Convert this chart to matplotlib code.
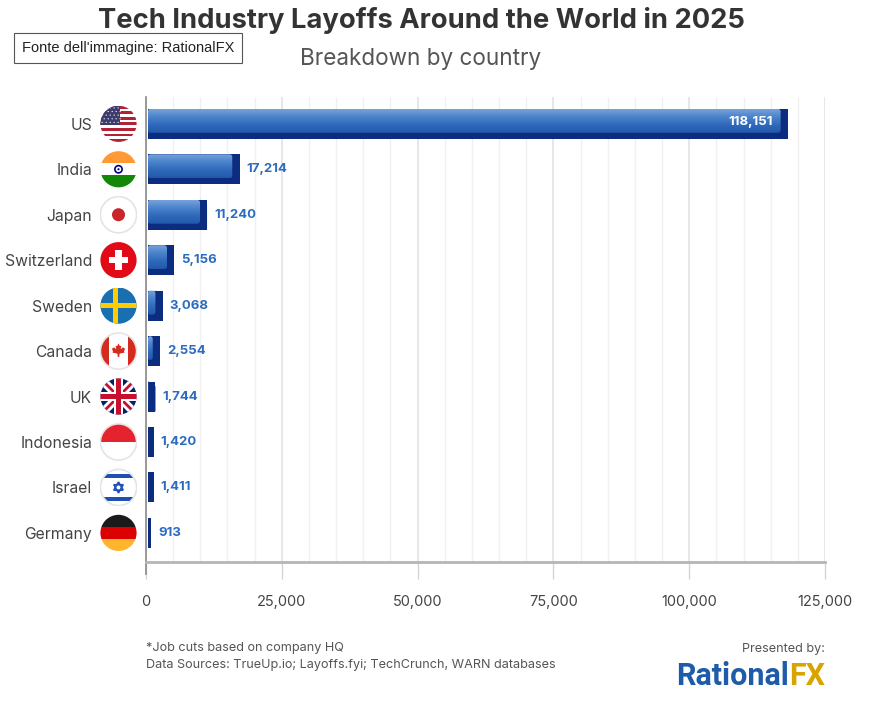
import numpy as np
import matplotlib
matplotlib.use("Agg")
import matplotlib.pyplot as plt
from matplotlib.patches import FancyBboxPatch, Rectangle, Circle, Polygon
from matplotlib.colors import LinearSegmentedColormap
from matplotlib.ticker import MultipleLocator, FuncFormatter

# ── data ────────────────────────────────────────────────────────────
countries = ["US", "India", "Japan", "Switzerland", "Sweden",
             "Canada", "UK", "Indonesia", "Israel", "Germany"]
layoffs = [118151, 17214, 11240, 5156, 3068, 2554, 1744, 1420, 1411, 913]
flag_codes = ["us", "in", "jp", "ch", "se", "ca", "gb", "id", "il", "de"]

TITLE = "Tech Industry Layoffs Around the World in 2025"
SUBTITLE = "Breakdown by country"
NOTE = "*Job cuts based on company HQ"
SOURCES = "Data Sources: TrueUp.io; Layoffs.fyi; TechCrunch, WARN databases"

FONT = ["Inter", "DejaVu Sans"]
W, H = 874, 701

DARK = "#0c2c80"
VALUE_BLUE = "#2b6cc0"
face_cmap = LinearSegmentedColormap.from_list(
    "face", ["#76a2da", "#4a82cb", "#2f69ba", "#2258ab"])

fig = plt.figure(figsize=(W / 100, H / 100), dpi=100)
fig.patch.set_facecolor("white")
ax = fig.add_axes([146 / W, 1 - 562 / H, (825 - 146) / W, (562 - 97) / H])

y = np.arange(len(countries))
ax.set_xlim(0, 125000)
ax.set_ylim(len(countries) - 0.36, -0.59)

# pixel -> data unit helpers
px_x = 125000 / (825 - 146)
px_y = (len(countries) - 0.36 + 0.59) / (562 - 97)

# grid
ax.xaxis.set_major_locator(MultipleLocator(25000))
ax.xaxis.set_minor_locator(MultipleLocator(5000))
ax.grid(axis="x", which="major", color="#e0e0e0", lw=1.1, zorder=0)
ax.grid(axis="x", which="minor", color="#f0f0f0", lw=1.0, zorder=0)
ax.set_axisbelow(True)

# bars: dark base + gradient face
bar_h = 30 * px_y
base = ax.barh(y, layoffs, height=bar_h, color=DARK, zorder=3)
for rect, val in zip(base, layoffs):
    rect.set_x(300)
    rect.set_width(max(val - 300, 0))
    top = rect.get_y()
    face_w = val - 7 * px_x
    if face_w > 300:
        face = FancyBboxPatch((300, top), face_w - 300, bar_h - 6 * px_y,
                              boxstyle=f"round,pad=0,rounding_size={3 * px_x}",
                              mutation_aspect=px_y / px_x,
                              fc="none", ec="none", zorder=4)
        ax.add_patch(face)
        grad = np.linspace(0, 1, 64).reshape(-1, 1)
        im = ax.imshow(grad, cmap=face_cmap, aspect="auto",
                       extent=[300, face_w, top + bar_h - 6 * px_y, top],
                       zorder=4, interpolation="bilinear")
        im.set_clip_path(face)
        # bevel on top-right corner
        bev = Polygon([[face_w, top], [val - 2.5 * px_x, top + 2 * px_y],
                       [val, top + 5 * px_y], [val, top + bar_h],
                       [face_w, top + bar_h - 6 * px_y]],
                      closed=True, fc=DARK, ec="none", zorder=4)
        ax.add_patch(bev)

ax.set_xlim(0, 125000)
ax.set_ylim(len(countries) - 0.36, -0.59)

# value labels
for yi, val in zip(y, layoffs):
    if val > 60000:
        ax.text(val - 15 * px_x, yi - 0.03, f"{val:,}", ha="right", va="center",
                color="white", fontsize=9.5, fontweight="bold", family=FONT, zorder=6)
    else:
        ax.text(val + 7 * px_x, yi, f"{val:,}", ha="left", va="center",
                color=VALUE_BLUE, fontsize=9.5, fontweight="bold", family=FONT, zorder=6)

# axes styling
for s in ["top", "right"]:
    ax.spines[s].set_visible(False)
ax.spines["bottom"].set_color("#b5b5b5")
ax.spines["bottom"].set_linewidth(2)
ax.spines["left"].set_color("#8a8a8a")
ax.spines["left"].set_linewidth(1.2)
ax.spines["left"].set_bounds(len(countries) - 0.36 + 12 * px_y, -0.59)
ax.spines["left"].set_clip_on(False)
ax.xaxis.set_major_formatter(FuncFormatter(lambda v, p: f"{int(v):,}"))
ax.tick_params(axis="x", which="major", length=12, color="#d5d5d5", width=1,
               labelsize=10.5, labelcolor="#444444", pad=12)
ax.tick_params(axis="x", which="minor", length=0)
ax.set_yticks(y)
ax.set_yticklabels(countries, family=FONT, fontsize=11.3, color="#444444")
ax.tick_params(axis="y", length=0, pad=(146 - 92) * 0.72)
for lab in ax.get_xticklabels():
    lab.set_family(FONT)


# ── flags ──────────────────────────────────────────────────────────
def draw_flag(fax, code):
    clip = Circle((0, 0), 1, transform=fax.transData)
    items = []

    def rect(x0, y0, w, h, c):
        items.append(Rectangle((x0, y0), w, h, fc=c, ec="none"))

    border = False
    if code == "us":
        for k in range(13):
            rect(-1, 1 - (k + 1) * 2 / 13, 2, 2 / 13, "#b22234" if k % 2 == 0 else "white")
        rect(-1, 1 - 7 * 2 / 13, 1.1, 7 * 2 / 13, "#3c3b6e")
        for r in range(5):
            for c in range(5):
                items.append(Circle((-0.9 + c * 0.22 + (r % 2) * 0.11, 0.88 - r * 0.2),
                                    0.035, fc="white", ec="none"))
    elif code == "in":
        rect(-1, 1 / 3, 2, 1, "#ff9933")
        rect(-1, -1 / 3, 2, 2 / 3, "white")
        rect(-1, -2, 2, 5 / 3, "#138808")
        items.append(Circle((0, 0), 0.2, fc="none", ec="#000080", lw=1.2))
        items.append(Circle((0, 0), 0.06, fc="#000080", ec="none"))
    elif code == "jp":
        rect(-1, -1, 2, 2, "white")
        items.append(Circle((0, 0), 0.36, fc="#c8262b", ec="none"))
        border = True
    elif code == "ch":
        rect(-1, -1, 2, 2, "#e30a17")
        rect(-0.17, -0.55, 0.34, 1.1, "white")
        rect(-0.55, -0.17, 1.1, 0.34, "white")
    elif code == "se":
        rect(-1, -1, 2, 2, "#1a6fb0")
        rect(-0.32, -1, 0.3, 2, "#fecc00")
        rect(-1, -0.15, 2, 0.3, "#fecc00")
    elif code == "ca":
        rect(-1, -1, 2, 2, "white")
        rect(-1, -1, 0.5, 2, "#d52b1e")
        rect(0.5, -1, 0.5, 2, "#d52b1e")
        leaf = np.array([[0, 0.42], [0.08, 0.27], [0.16, 0.3], [0.12, 0.1],
                         [0.26, 0.22], [0.3, 0.14], [0.38, 0.16], [0.3, -0.02],
                         [0.34, -0.08], [0.06, -0.14], [0.04, -0.32], [-0.04, -0.32],
                         [-0.06, -0.14], [-0.34, -0.08], [-0.3, -0.02], [-0.38, 0.16],
                         [-0.3, 0.14], [-0.26, 0.22], [-0.12, 0.1], [-0.16, 0.3],
                         [-0.08, 0.27]])
        items.append(Polygon(leaf, closed=True, fc="#d52b1e", ec="none"))
        border = True
    elif code == "gb":
        rect(-1, -1, 2, 2, "#012169")
        fax.plot([-1, 1], [-1, 1], color="white", lw=6, clip_path=clip, solid_capstyle="butt")
        fax.plot([-1, 1], [1, -1], color="white", lw=6, clip_path=clip, solid_capstyle="butt")
        fax.plot([-1, 1], [-1, 1], color="#c8102e", lw=2, clip_path=clip, zorder=3)
        fax.plot([-1, 1], [1, -1], color="#c8102e", lw=2, clip_path=clip, zorder=3)
        items.append(Rectangle((-0.27, -1), 0.54, 2, fc="white", ec="none", zorder=4))
        items.append(Rectangle((-1, -0.27), 2, 0.54, fc="white", ec="none", zorder=4))
        items.append(Rectangle((-0.15, -1), 0.3, 2, fc="#c8102e", ec="none", zorder=5))
        items.append(Rectangle((-1, -0.15), 2, 0.3, fc="#c8102e", ec="none", zorder=5))
    elif code == "id":
        rect(-1, 0, 2, 1, "#e4232f")
        rect(-1, -1, 2, 1, "white")
        border = True
    elif code == "il":
        rect(-1, -1, 2, 2, "white")
        rect(-1, 0.52, 2, 0.22, "#1f4fb5")
        rect(-1, -0.74, 2, 0.22, "#1f4fb5")
        ang = np.deg2rad([90, 210, 330])
        for a0 in (0, np.pi):
            tri = np.c_[0.3 * np.cos(ang + a0), 0.3 * np.sin(ang + a0)]
            items.append(Polygon(tri, closed=True, fc="none", ec="#1f4fb5", lw=1.2))
        border = True
    elif code == "de":
        rect(-1, 1 / 3, 2, 1, "#1a1a1a")
        rect(-1, -1 / 3, 2, 2 / 3, "#dd0000")
        rect(-1, -2, 2, 5 / 3, "#ffb52e")

    for it in items:
        fax.add_patch(it)
        it.set_clip_path(clip)
    ec = "#e4e4e4" if border else "none"
    fax.add_patch(Circle((0, 0), 1, fc="none", ec=ec, lw=1.2, zorder=10))
    fax.set_xlim(-1.05, 1.05)
    fax.set_ylim(-1.05, 1.05)
    fax.set_aspect("equal")
    fax.axis("off")


r_px = 19
for yi, code in zip(y, flag_codes):
    _, yd = ax.transData.transform((0, yi))
    fax = fig.add_axes([(118.5 - r_px) / W, (yd - r_px) / H, 2 * r_px / W, 2 * r_px / H])
    draw_flag(fax, code)

# ── titles / footer ────────────────────────────────────────────────
fig.text(421 / W, 1 - 20 / H, TITLE, ha="center", va="center", fontsize=19.7,
         fontweight="bold", color="#333333", family=FONT)
fig.text(421 / W, 1 - 59 / H, SUBTITLE, ha="center", va="center", fontsize=16.2,
         color="#555555", family=FONT)
fig.text(22 / W, 1 - 48 / H, "Fonte dell'immagine: RationalFX", ha="left", va="center",
         fontsize=10.5, color="#222222",
         family=["Liberation Sans Narrow", "Liberation Sans", "DejaVu Sans"],
         bbox=dict(boxstyle="square,pad=0.55", fc="white", ec="#555555", lw=0.8))

fig.text(146 / W, 1 - 648 / H, NOTE, ha="left", va="center", fontsize=9.1,
         color="#555555", family=FONT)
fig.text(146 / W, 1 - 665 / H, SOURCES, ha="left", va="center", fontsize=9.1,
         color="#555555", family=FONT)
fig.text(825 / W, 1 - 649 / H, "Presented by:", ha="right", va="center", fontsize=9.1,
         color="#555555", family=FONT)

fx = fig.text(825 / W, 1 - 676 / H, "FX", ha="right", va="center", fontsize=22,
              fontweight="bold", color="#d9a300", family=["Roboto", "DejaVu Sans"])
fig.canvas.draw()
bb = fx.get_window_extent()
fig.text((bb.x0 - 0.5) / W, 1 - 676 / H, "Rational", ha="right", va="center", fontsize=22,
         fontweight="bold", color="#1e5ba8", family=["Roboto", "DejaVu Sans"])

fig.savefig("out.png", dpi=100, facecolor="white")
